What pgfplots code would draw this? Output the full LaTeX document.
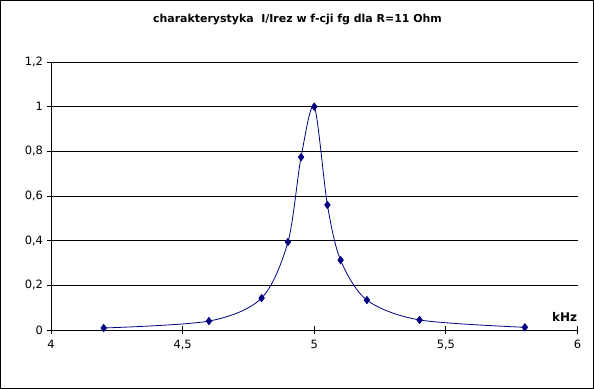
\documentclass[border=0pt]{standalone}
\usepackage{pgfplots}
\pgfplotsset{compat=1.18}
\usepackage{fontspec}
\setmainfont{DejaVu Sans}
\definecolor{navy}{RGB}{0,0,128}
\begin{document}
\begin{tikzpicture}
\draw[line width=1bp, use as bounding box] (0.5bp,0.5bp) rectangle (593.5bp,388.5bp);
\node[font=\bfseries\fontsize{11}{12}\selectfont] at (297.5bp,369bp) {charakterystyka\ \ I/Irez w f-cji fg dla R=11 Ohm};
\begin{axis}[
  at={(51bp,59bp)}, anchor=south west,
  scale only axis, width=526.5bp, height=268bp,
  xmin=4, xmax=6, ymin=0, ymax=1.2,
  axis x line=bottom, axis y line=left,
  axis line style={-, black, line width=0.8bp},
  xtick={4,4.5,5,5.5,6}, ytick={0,0.2,0.4,0.6,0.8,1,1.2},
  tick align=center, major tick length=8bp,
  tick style={black, line width=0.8bp},
  ymajorgrids, grid style={black, line width=0.8bp},
  /pgf/number format/use comma,
  /pgf/number format/assume math mode=true,
  ticklabel style={font=\fontsize{11.5}{12}\selectfont},
  yticklabel style={xshift=-0.5bp},
  xticklabel style={yshift=-2.5bp},
  xlabel={kHz},
  xlabel style={at={(axis description cs:1,0)}, anchor=base east, xshift=3bp, yshift=8bp, font=\bfseries\fontsize{12}{12}\selectfont},
  clip=false,
]
\addplot[navy, line width=0.8bp, smooth, tension=0.5, mark=diamond*, mark size=3.6bp, mark options={fill=navy, draw=navy}]
coordinates {
(4.2,0.009) (4.6,0.040) (4.8,0.143) (4.9,0.394) (4.95,0.774) (5.0,1.0)
(5.05,0.560) (5.1,0.313) (5.2,0.134) (5.4,0.045) (5.8,0.012)
};
\end{axis}
\end{tikzpicture}
\end{document}
